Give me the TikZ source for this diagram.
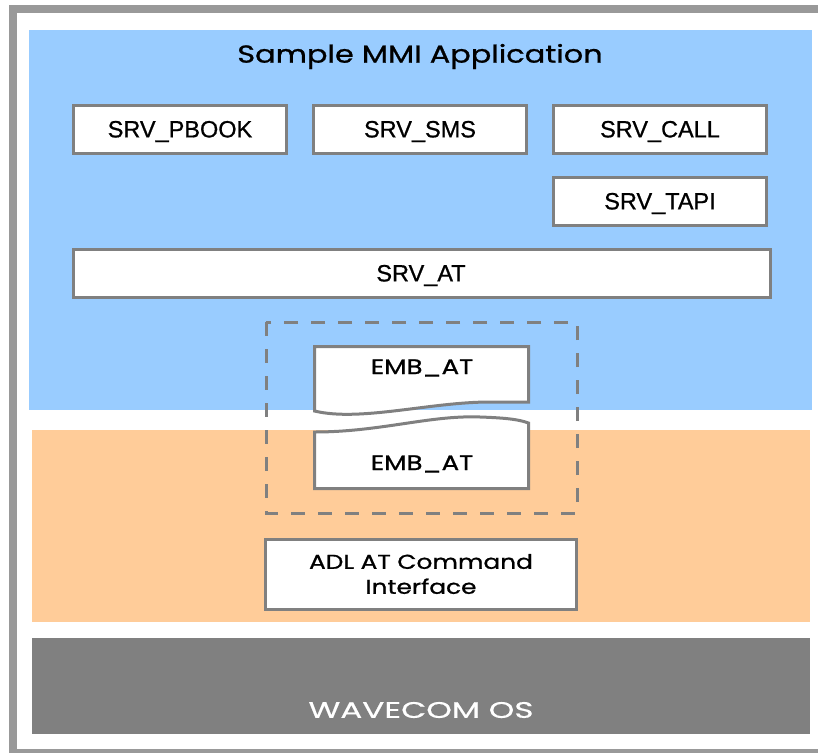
\documentclass[tikz,border=0pt]{standalone}
\usepackage{fontspec}
\setmainfont[FakeBold=0.8]{Liberation Sans}
\newfontfamily\widefont[FakeStretch=1.24,FakeBold=1]{Poppins}
\newfontfamily\osfont[FakeStretch=1.45,FakeBold=0.6]{Poppins}
\definecolor{appblue}{HTML}{99CCFF}
\definecolor{adlorange}{HTML}{FFCC99}
\definecolor{osgray}{HTML}{808080}
\definecolor{framegray}{HTML}{999999}
\definecolor{boxline}{HTML}{808080}
\tikzset{
  srvbox/.style={draw=boxline, line width=3pt, fill=white},
  srvtext/.style={font=\fontsize{23.5}{26}\selectfont, inner sep=0pt},
  widetext/.style={font=\widefont\fontsize{21}{25}\selectfont, inner sep=0pt, align=center},
  dashframe/.style={draw=boxline, line width=3pt, dash pattern=on 14pt off 13pt},
}
\begin{document}
\begin{tikzpicture}[x=1pt,y=-1pt]
\useasboundingbox (0,0) rectangle (818,752);
\clip (0,0) rectangle (818,752);
\fill[white] (0,0) rectangle (818,752);
% outer frame, open beyond the right edge
\draw[framegray, line width=8pt] (13,753) -- (13,9) -- (830,9);
\draw[framegray, line width=8pt] (13,753) -- (830,753);
% layers
\fill[appblue] (29,30) rectangle (812,410);
\fill[adlorange] (32,430) rectangle (810,622);
\fill[osgray] (32,638) rectangle (810,734);
\node[font=\widefont\fontsize{24.5}{26}\selectfont, inner sep=0pt] (title) at (420,56.5) {Sample MMI Application};
% service boxes
\draw[srvbox] (73.5,105.5) rectangle (286,153.5);
\node[srvtext] (pbook) at (180,131.5) {SRV\_PBOOK};
\draw[srvbox] (313.5,105.5) rectangle (526,153.5);
\node[srvtext] (sms) at (420,131.5) {SRV\_SMS};
\draw[srvbox] (553.5,105.5) rectangle (766,153.5);
\node[srvtext] (call) at (660,131.5) {SRV\_CALL};
\draw[srvbox] (553.5,177.5) rectangle (766,225.5);
\node[srvtext] (tapi) at (660,203.5) {SRV\_TAPI};
\draw[srvbox] (73.5,249.5) rectangle (770,297.5);
\node[srvtext] (at) at (421,275.5) {SRV\_AT};
% embedded AT split across the two layers
\draw[dashframe] (266,322) rectangle (577,513);
\draw[srvbox] (314.5,411) -- (314.5,346.5) -- (528.5,346.5) -- (528.5,402)
  -- (490,402) .. controls (430,402) and (360,422) .. (314.5,411) -- cycle;
\node[widetext] (emb1) at (422,368) {EMB\_AT};
\draw[srvbox] (314.5,432) .. controls (380,432) and (430,415) .. (480,417)
  .. controls (510,418) and (520,420) .. (528.5,423) -- (528.5,488.5)
  -- (314.5,488.5) -- cycle;
\node[widetext] (emb2) at (422,464) {EMB\_AT};
% ADL interface
\draw[srvbox] (265.5,539.5) rectangle (576.5,609.5);
\node[widetext, font=\widefont\fontsize{20}{25}\selectfont] (adl) at (421,574) {ADL AT Command\\Interface};
% operating system label
\node[inner sep=0pt, text=white, font=\osfont\fontsize{22.5}{24}\selectfont] (os) at (421,710) {WAVECOM OS};
\end{tikzpicture}
\end{document}
